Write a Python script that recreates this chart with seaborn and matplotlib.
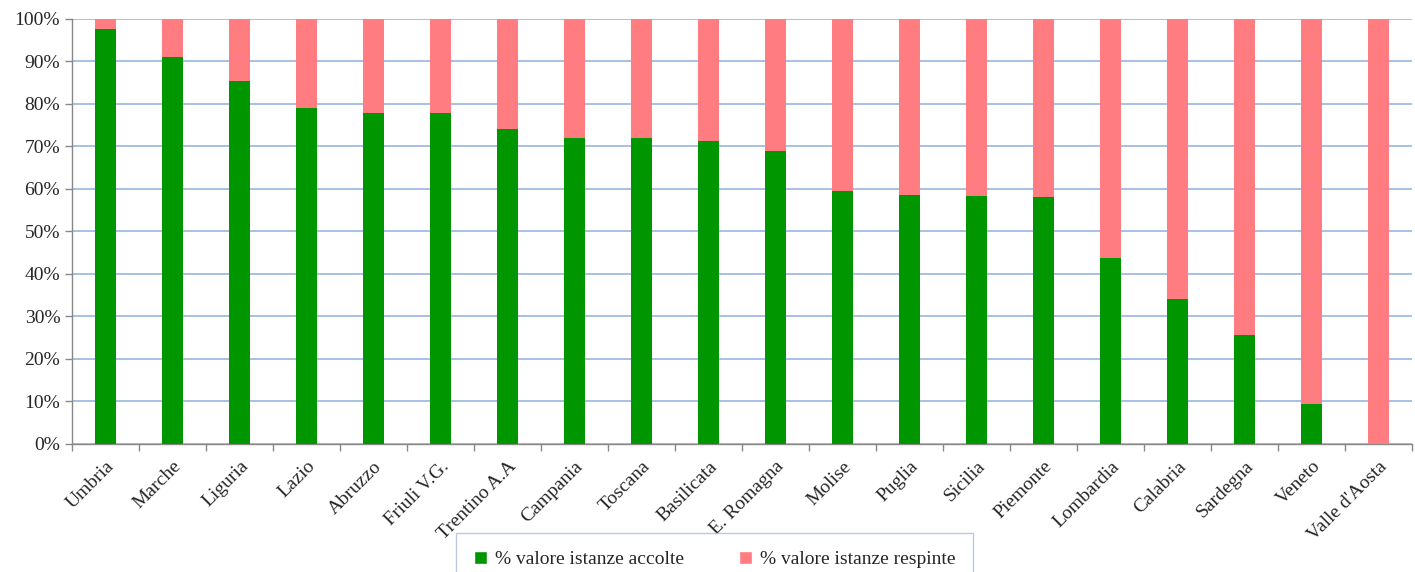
import numpy as np
import pandas as pd
import matplotlib.pyplot as plt
import seaborn as sns
from matplotlib.patches import Patch
from matplotlib.ticker import FuncFormatter, FixedLocator

regioni = ["Umbria", "Marche", "Liguria", "Lazio", "Abruzzo", "Friuli V.G.",
           "Trentino A.A", "Campania", "Toscana", "Basilicata", "E. Romagna",
           "Molise", "Puglia", "Sicilia", "Piemonte", "Lombardia", "Calabria",
           "Sardegna", "Veneto", "Valle d'Aosta"]
accolte = [97.7, 91.1, 85.5, 79.0, 77.9, 77.9, 74.1, 71.9, 71.9, 71.2,
           69.0, 59.6, 58.7, 58.4, 58.2, 43.8, 34.1, 25.6, 9.5, 0.0]
respinte = [100 - a for a in accolte]

verde = "#009600"
rosa = "#FF7C80"

df = pd.DataFrame({"regione": regioni, "accolte": accolte, "respinte": respinte})
df["totale"] = df["accolte"] + df["respinte"]

sns.set_style("white")
plt.rcParams["font.family"] = ["Liberation Serif", "DejaVu Serif"]

fig = plt.figure(figsize=(14.15, 5.72), dpi=100)
ax = fig.add_axes([0.0509, 0.2238, 0.9471, 0.743])

# barre impilate: prima il totale (rosa), poi le accolte (verde) sopra
sns.barplot(data=df, x="regione", y="totale", color=rosa, width=0.31,
            saturation=1, linewidth=0, ax=ax, zorder=3)
sns.barplot(data=df, x="regione", y="accolte", color=verde, width=0.31,
            saturation=1, linewidth=0, ax=ax, zorder=4)

ax.set_xlim(-0.5, len(regioni) - 0.5)
ax.set_ylim(0, 100)
ax.set_yticks(np.arange(0, 101, 10))
ax.yaxis.set_major_formatter(FuncFormatter(lambda v, p: f"{int(v)}%"))
ax.grid(axis="y", color="#97B5E5", linewidth=1.2, zorder=0)
ax.grid(axis="x", visible=False)
ax.set_xlabel("")
ax.set_ylabel("")

ax.set_xticks(range(len(regioni)))
ax.set_xticklabels(regioni, rotation=45, ha="right", rotation_mode="anchor",
                   fontsize=14)
ax.tick_params(axis="x", which="major", length=0, pad=10)
ax.xaxis.set_minor_locator(FixedLocator(np.arange(-0.5, len(regioni), 1)))
ax.tick_params(axis="x", which="minor", bottom=True, length=5,
               color="#888888", width=1, direction="out")
ax.tick_params(axis="y", length=5, color="#888888", width=1, labelsize=14,
               left=True, direction="out")

for s in ["top", "right"]:
    ax.spines[s].set_visible(False)
for s in ["left", "bottom"]:
    ax.spines[s].set_color("#888888")
    ax.spines[s].set_linewidth(1)

handles = [Patch(facecolor=verde, label="% valore istanze accolte"),
           Patch(facecolor=rosa, label="% valore istanze respinte")]
leg = fig.legend(handles=handles, loc="center", bbox_to_anchor=(0.505, 0.022),
                 ncol=2, frameon=True, fancybox=False, fontsize=14,
                 handlelength=0.7, handleheight=0.7, handletextpad=0.4,
                 columnspacing=2.8, borderpad=0.9, borderaxespad=0)
leg.get_frame().set_edgecolor("#A9BCD8")
leg.get_frame().set_linewidth(1)

fig.savefig("out.png", dpi=100)
